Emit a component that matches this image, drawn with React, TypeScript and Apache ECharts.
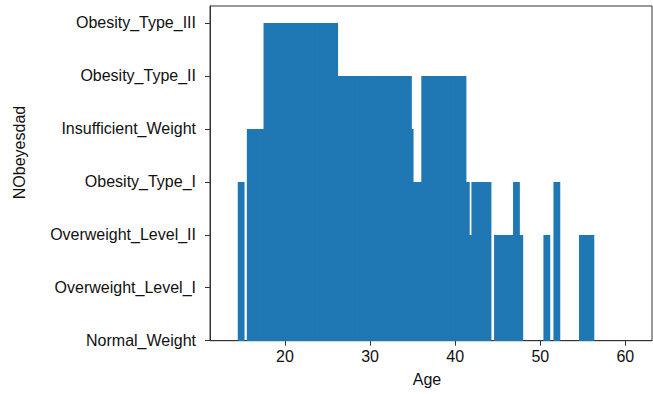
import React, { useEffect, useRef } from "react";
import * as echarts from "echarts";

const categories = [
  "Normal_Weight",
  "Overweight_Level_I",
  "Overweight_Level_II",
  "Obesity_Type_I",
  "Insufficient_Weight",
  "Obesity_Type_II",
  "Obesity_Type_III",
];

// Age of each bar (bar centre) and the category index it reaches
const ages = [
  14.85,
  15.92, 16.5, 17.08, 17.3,
  17.88, 18.4, 18.9, 19.4, 19.9, 20.4, 20.9, 21.4, 21.9, 22.4, 22.9, 23.4, 23.9, 24.4, 24.9, 25.4, 25.84,
  26.3, 26.64, 27.1, 27.6, 28.1, 28.6, 29.1, 29.6, 30.1, 30.6, 31.1, 31.6, 32.1, 32.6, 33.1, 33.6, 34.1, 34.51,
  34.71, 35.3, 35.75,
  36.42, 36.9, 37.4, 37.9, 38.4, 38.9, 39.4, 39.9, 40.4, 40.92,
  41.31, 41.8,
  42.31, 42.8, 43.3, 43.86,
  44.97, 45.5, 46.0, 46.5, 47.0, 47.59, 47.2,
  50.77, 51.95,
  54.95, 55.5, 55.95,
];
const levels = [
  3,
  4, 4, 4, 4,
  6, 6, 6, 6, 6, 6, 6, 6, 6, 6, 6, 6, 6, 6, 6, 6, 6,
  5, 5, 5, 5, 5, 5, 5, 5, 5, 5, 5, 5, 5, 5, 5, 5, 5, 5,
  4, 3, 3,
  5, 5, 5, 5, 5, 5, 5, 5, 5, 5,
  3, 2,
  3, 3, 3, 3,
  2, 2, 2, 2, 2, 2, 3,
  2, 3,
  2, 2, 2,
];

const xTicks = [20, 30, 40, 50, 60];

const FONT = "'Liberation Sans', Arial, sans-serif";

export default function App() {
  const ref = useRef<HTMLDivElement>(null);
  useEffect(() => {
    if (!ref.current) return;
    const chart = echarts.init(ref.current, undefined, { renderer: "svg" });
    const data = ages.map((a, i) => [a, levels[i]]);
    chart.setOption({
      animation: false,
      grid: {
        left: 210,
        right: 1,
        top: 6,
        bottom: 53.3,
        show: true,
        borderColor: "#333",
        borderWidth: 1,
        backgroundColor: "transparent",
      },
      xAxis: {
        type: "value",
        min: 11.19,
        max: 63.13,
        axisLine: { show: true, lineStyle: { color: "#333", width: 1 } },
        axisTick: {
          show: true,
          length: 5,
          inside: false,
          customValues: xTicks,
          lineStyle: { color: "#333" },
        },
        axisLabel: {
          customValues: xTicks,
          fontFamily: FONT,
          fontSize: 16,
          color: "#111",
          margin: 8,
        },
        splitLine: { show: false },
      },
      yAxis: {
        type: "value",
        min: 0,
        max: 6.32,
        interval: 1,
        axisLine: { show: true, lineStyle: { color: "#333", width: 1 } },
        axisTick: { show: true, length: 5, inside: false, lineStyle: { color: "#333" } },
        axisLabel: {
          fontFamily: FONT,
          fontSize: 16,
          color: "#111",
          margin: 14,
          showMaxLabel: false,
          formatter: (v: number) => {
            const i = Math.round(v);
            return Math.abs(v - i) < 1e-6 && categories[i] ? categories[i] : "";
          },
        },
        splitLine: { show: false },
      },
      graphic: [
        {
          type: "text",
          x: 19,
          y: 152.5,
          rotation: Math.PI / 2,
          style: {
            text: "NObeyesdad",
            fontFamily: FONT,
            fontSize: 16,
            fill: "#111",
            textAlign: "center",
            textVerticalAlign: "middle",
          },
        },
        {
          type: "text",
          x: 427,
          y: 379,
          style: {
            text: "Age",
            fontFamily: FONT,
            fontSize: 16,
            fill: "#111",
            textAlign: "center",
            textVerticalAlign: "middle",
          },
        },
      ],
      series: [
        {
          type: "custom",
          data,
          renderItem: (params: any, api: any) => {
            const x = api.value(0);
            const h = api.value(1);
            const p0 = api.coord([x - 0.4, h]);
            const p1 = api.coord([x + 0.4, 0]);
            const top = Math.round(p0[1]);
            const bottom = Math.round(p1[1]);
            return {
              type: "rect",
              shape: { x: p0[0], y: top, width: p1[0] - p0[0], height: bottom - top },
              style: { fill: "#1f77b4" },
            };
          },
        },
      ],
    });
    return () => chart.dispose();
  }, []);
  return (
    <div
      ref={ref}
      style={{ position: "fixed", left: 0, top: 0, width: 653, height: 394, background: "#fff" }}
    />
  );
}
